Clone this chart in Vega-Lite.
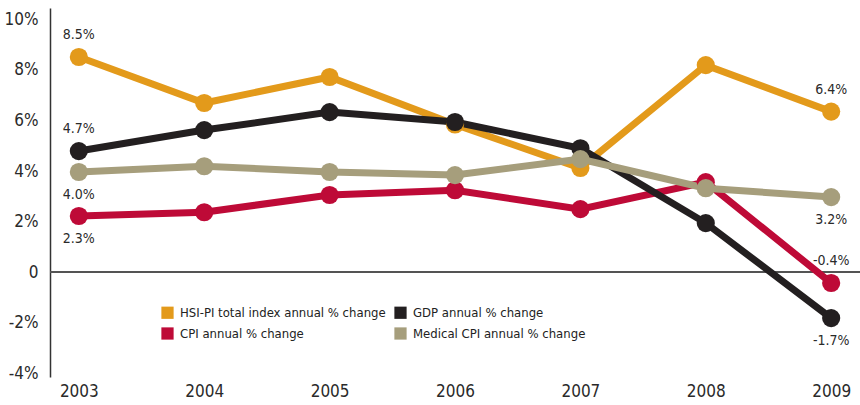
{
  "$schema": "https://vega.github.io/schema/vega-lite/v6.json",
  "width": 810,
  "height": 369,
  "autosize": {"type": "none"},
  "padding": {"left": 50, "top": 8, "right": 0, "bottom": 28},
  "background": "white",
  "config": {
    "view": {"stroke": null},
    "font": "DejaVu Sans Condensed, Roboto",
    "axis": {"labelFont": "DejaVu Sans Condensed, Roboto", "labelColor": "#2a2a2a"},
    "legend": {"labelFont": "DejaVu Sans Condensed, Roboto"}
  },
  "data": {
    "values": [
      {"year": "2003", "series": "CPI annual % change", "value": 2.22, "label": "2.3%"},
      {"year": "2004", "series": "CPI annual % change", "value": 2.37},
      {"year": "2005", "series": "CPI annual % change", "value": 3.05},
      {"year": "2006", "series": "CPI annual % change", "value": 3.24},
      {"year": "2007", "series": "CPI annual % change", "value": 2.49},
      {"year": "2008", "series": "CPI annual % change", "value": 3.56},
      {"year": "2009", "series": "CPI annual % change", "value": -0.43, "label": "-0.4%"},
      {"year": "2003", "series": "HSI-PI total index annual % change", "value": 8.51, "label": "8.5%"},
      {"year": "2004", "series": "HSI-PI total index annual % change", "value": 6.69},
      {"year": "2005", "series": "HSI-PI total index annual % change", "value": 7.72},
      {"year": "2006", "series": "HSI-PI total index annual % change", "value": 5.84},
      {"year": "2007", "series": "HSI-PI total index annual % change", "value": 4.12},
      {"year": "2008", "series": "HSI-PI total index annual % change", "value": 8.19},
      {"year": "2009", "series": "HSI-PI total index annual % change", "value": 6.35, "label": "6.4%"},
      {"year": "2003", "series": "GDP annual % change", "value": 4.79, "label": "4.7%"},
      {"year": "2004", "series": "GDP annual % change", "value": 5.62},
      {"year": "2005", "series": "GDP annual % change", "value": 6.33},
      {"year": "2006", "series": "GDP annual % change", "value": 5.94},
      {"year": "2007", "series": "GDP annual % change", "value": 4.9},
      {"year": "2008", "series": "GDP annual % change", "value": 1.94},
      {"year": "2009", "series": "GDP annual % change", "value": -1.82, "label": "-1.7%"},
      {"year": "2003", "series": "Medical CPI annual % change", "value": 3.96, "label": "4.0%"},
      {"year": "2004", "series": "Medical CPI annual % change", "value": 4.19},
      {"year": "2005", "series": "Medical CPI annual % change", "value": 3.96},
      {"year": "2006", "series": "Medical CPI annual % change", "value": 3.84},
      {"year": "2007", "series": "Medical CPI annual % change", "value": 4.47},
      {"year": "2008", "series": "Medical CPI annual % change", "value": 3.32},
      {"year": "2009", "series": "Medical CPI annual % change", "value": 2.97, "label": "3.2%"}
    ]
  },
  "encoding": {
    "x": {
      "field": "year",
      "type": "ordinal",
      "scale": {"type": "point", "padding": 0.23},
      "axis": {
        "title": null,
        "labelAngle": 0,
        "labelFontSize": 17,
        "labelPadding": 6,
        "domain": false,
        "ticks": false
      }
    },
    "y": {
      "field": "value",
      "type": "quantitative",
      "scale": {"domain": [-4.15, 10.45], "nice": false, "zero": false},
      "axis": {
        "title": null,
        "values": [-4, -2, 0, 2, 4, 6, 8, 10],
        "labelExpr": "datum.value == 0 ? '0' : datum.value + '%'",
        "labelFontSize": 17,
        "labelPadding": 12,
        "grid": false,
        "ticks": false,
        "domainColor": "#333333",
        "domainWidth": 1.5
      }
    }
  },
  "layer": [
    {
      "mark": {"type": "rule", "color": "#555555", "strokeWidth": 1.3},
      "encoding": {"y": {"datum": 0}, "x": {"value": 0}, "x2": {"value": 810}}
    },
    {
      "mark": {"type": "line", "strokeWidth": 7},
      "encoding": {
        "color": {
          "field": "series",
          "type": "nominal",
          "scale": {
            "domain": ["HSI-PI total index annual % change", "CPI annual % change", "GDP annual % change", "Medical CPI annual % change"],
            "range": ["#E39A1B", "#BE0A37", "#231F20", "#A69E7C"]
          },
          "legend": {
            "title": null,
            "orient": "none",
            "legendX": 111,
            "legendY": 298,
            "columns": 2,
            "columnPadding": 8,
            "rowPadding": 7,
            "symbolType": "square",
            "symbolSize": 150,
            "symbolStrokeWidth": 0,
            "symbolOpacity": 1,
            "labelFontSize": 13,
            "labelLimit": 400,
            "labelColor": "#222222",
            "labelOffset": 6
          }
        }
      }
    },
    {
      "mark": {"type": "point", "filled": true, "size": 330, "opacity": 1},
      "encoding": {"color": {"field": "series", "type": "nominal", "legend": null}}
    },
    {
      "transform": [{"filter": "datum.label && (datum.value == 8.51 || datum.value == 4.79 || datum.value == 6.35 || datum.value == -0.43)"}],
      "mark": {"type": "text", "dy": -22, "fontSize": 14, "color": "#2a2a2a", "baseline": "middle"},
      "encoding": {"text": {"field": "label"}}
    },
    {
      "transform": [{"filter": "datum.label && (datum.value == 3.96 || datum.value == 2.22 || datum.value == 2.97 || datum.value == -1.82)"}],
      "mark": {"type": "text", "dy": 23, "fontSize": 14, "color": "#2a2a2a", "baseline": "middle"},
      "encoding": {"text": {"field": "label"}}
    }
  ]
}
